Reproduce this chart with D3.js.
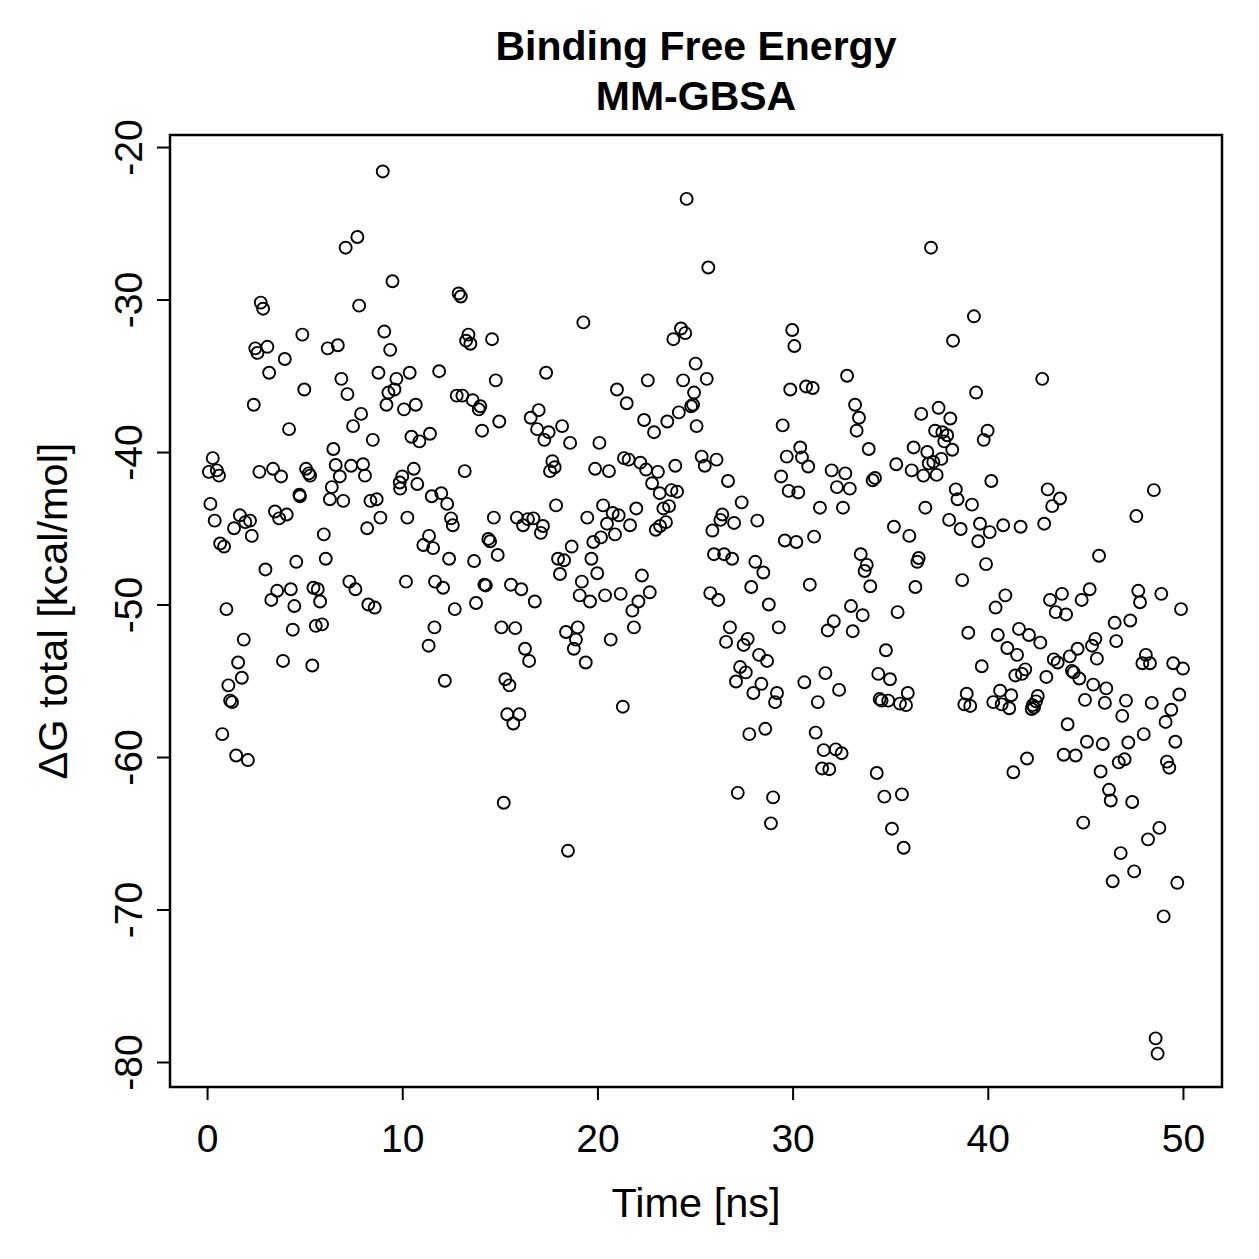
<!DOCTYPE html>
<html>
<head>
<meta charset="utf-8">
<script src="https://cdn.jsdelivr.net/npm/d3@7"></script>
<style>
  html, body { margin: 0; padding: 0; background: #fff; }
  svg { display: block; font-family: "Liberation Sans", Arial, Helvetica, sans-serif; }
</style>
</head>
<body>
<svg id="chart" width="1259" height="1259"></svg>
<script>
// ---- data ----
const titleLines = ["Binding Free Energy", "MM-GBSA"];
const xLabel = "Time [ns]";
const yLabel = "\u0394G total [kcal/mol]";
const xTicks = [0, 10, 20, 30, 40, 50];
const yTicks = [-20, -30, -40, -50, -60, -70, -80];

const time = [
 9.0,7.7,7.1,9.5,2.75,2.87,7.79,4.88,9.08,2.47,2.58,3.09,6.18,6.70,9.38,3.98,3.18,6.88,8.78,9.70,
 10.38,4.98,7.19,9.29,9.60,2.39,9.19,10.09,10.69,7.89,7.48,4.20,10.47,10.88,11.42,8.49,6.47,0.29,
 24.57,12.89,13.0,19.28,24.28,24.50,23.89,13.39,13.27,13.49,14.60,11.89,17.37,14.79,22.58,24.39,25.03,
 21.00,21.50,12.79,13.08,13.61,13.92,14.00,24.95,24.80,24.90,24.17,23.58,22.39,22.90,25.08,14.97,14.09,
 16.99,16.58,16.91,17.50,17.28,18.19,18.60,20.10,
 37.09,25.68,29.98,30.09,38.22,25.60,32.79,29.88,30.69,31.03,33.20,33.40,33.28,29.49,37.48,36.59,38.08,
 37.30,37.67,37.92,37.77,38.18,36.20,36.90,33.90,30.39,29.70,30.48,25.34,26.10,
 39.29,42.79,39.40,39.99,39.79,
 0.09,0.50,0.61,2.68,3.38,3.79,5.07,5.21,5.28,6.59,7.38,7.99,8.09,6.80,6.39,6.29,6.98,4.73,4.76,8.37,
 8.69,9.87,10.0,9.89,10.59,10.77,11.51,0.17,0.39,1.68,1.38,1.96,2.20,2.29,3.48,3.69,4.08,5.98,8.88,8.20,
 10.26,11.37,11.08,11.58,0.67,0.87,2.99,4.57,6.08,7.29,7.60,10.19,11.68,3.59,3.29,4.29,5.45,5.67,5.79,
 4.47,8.26,8.59,0.99,4.39,5.57,5.89,11.65,11.35,1.88,3.89,5.39,1.59,1.78,1.09,1.18,1.28,0.78,1.49,2.09,
 13.20,17.69,17.81,17.57,19.88,20.59,21.36,21.60,22.20,22.49,23.10,23.99,22.80,23.19,23.79,24.08,
 12.00,12.30,12.50,12.59,14.69,17.88,15.87,16.19,16.44,16.72,17.21,17.10,19.48,20.29,20.78,21.09,20.49,
 20.90,21.67,21.99,23.38,23.67,23.51,23.21,22.99,14.41,14.50,12.40,13.68,14.89,18.68,19.79,20.18,17.98,
 18.29,19.69,18.08,19.99,22.28,12.09,14.21,14.28,15.57,16.10,19.20,19.09,19.62,20.39,21.19,22.68,22.10,
 21.79,16.79,13.78,12.69,15.08,15.79,18.39,18.99,18.90,18.79,21.87,20.68,16.29,16.50,19.40,12.18,15.28,
 15.49,21.30,15.38,16.00,15.69,
 25.50,30.80,32.00,32.70,32.27,32.93,34.10,34.22,35.31,36.10,36.70,37.38,36.97,37.21,37.62,26.69,29.41,
 29.80,30.29,31.40,32.58,36.80,38.36,38.45,38.02,27.39,26.40,26.30,27.00,25.89,28.19,35.19,35.98,29.60,
 30.19,31.10,25.97,26.49,26.90,28.09,28.50,33.49,33.80,33.69,36.46,36.39,27.88,30.88,33.98,36.29,25.78,
 26.19,28.78,32.99,33.59,35.38,32.11,31.80,33.08,26.79,29.29,26.59,27.70,27.49,34.78,28.28,28.69,27.31,
 27.60,27.10,28.40,27.99,29.20,29.10,30.60,31.68,32.38,31.29,34.39,34.99,35.90,34.46,34.56,34.90,35.50,
 35.81,27.78,28.60,31.18,31.59,32.21,32.51,31.51,31.88,34.31,
 40.18,39.19,38.61,39.60,40.10,39.51,40.79,41.68,43.07,43.70,43.30,42.89,48.51,47.61,45.70,39.91,38.69,
 40.90,40.40,43.19,43.80,43.48,44.01,44.81,45.22,47.71,47.80,48.89,49.90,46.50,47.30,46.58,39.00,40.51,
 41.60,42.11,42.69,41.00,41.50,39.69,41.92,41.41,41.75,43.00,43.38,43.58,44.20,44.60,45.34,45.51,45.59,
 44.31,44.40,44.69,45.40,46.07,48.10,47.92,48.31,49.50,50.00,49.81,49.40,49.11,48.40,47.08,46.89,46.00,
 44.98,44.09,47.99,47.20,49.61,45.08,45.89,38.92,38.80,39.10,40.63,40.28,40.71,41.20,41.10,42.56,42.47,
 42.30,42.25,42.37,42.01,43.89,44.50,46.71,47.01,45.78,49.18,49.30,41.31,
 15.20,18.49,27.19,29.00,34.70,35.60,28.89,35.09,35.69,46.21,46.30,47.40,44.89,48.79,48.21,46.81,47.50,
 46.40,49.71,49.01,48.60,48.70
];

const dG = [
 -21.6,-25.9,-26.6,-28.8,-30.2,-30.6,-30.4,-32.3,-32.1,-33.2,-33.5,-33.1,-33.2,-33.0,-33.3,-33.9,-34.8,-35.2,-34.8,-35.2,
 -34.8,-35.9,-36.2,-36.1,-35.9,-36.9,-36.9,-37.2,-36.9,-37.5,-38.3,-38.5,-39.0,-39.3,-38.8,-39.2,-39.8,-40.4,
 -23.4,-29.6,-29.8,-31.5,-31.9,-32.2,-32.6,-32.3,-32.7,-32.9,-32.6,-34.7,-34.8,-35.3,-35.3,-35.3,-34.2,
 -35.9,-36.8,-36.3,-36.3,-36.6,-37.2,-37.0,-36.1,-37.0,-36.9,-37.4,-38.0,-37.9,-38.7,-38.3,-38.0,-38.6,
 -37.25,-37.75,-38.5,-38.7,-39.2,-38.3,-39.4,-39.4,
 -26.6,-27.9,-32.0,-33.05,-32.7,-35.2,-35.0,-35.9,-35.7,-35.8,-36.9,-37.75,-38.6,-38.25,-37.1,-37.5,-37.8,
 -38.6,-38.7,-38.9,-39.3,-39.85,-39.7,-40.0,-39.8,-39.7,-40.3,-40.35,-40.3,-40.5,
 -31.1,-35.2,-36.1,-38.6,-39.2,
 -41.3,-41.2,-41.55,-41.3,-41.1,-41.6,-41.1,-41.4,-41.55,-40.85,-40.9,-40.8,-41.55,-41.6,-42.3,-43.1,-43.2,-42.8,-42.9,-43.2,
 -43.1,-42.0,-41.6,-42.4,-41.1,-42.1,-42.9,-43.4,-44.5,-44.15,-45.0,-44.6,-44.5,-45.5,-43.9,-44.35,-44.1,-45.4,-44.3,-45.0,
 -44.3,-45.5,-46.1,-46.3,-46.0,-46.2,-47.7,-47.2,-47.0,-48.5,-49.0,-48.5,-48.5,-49.1,-49.7,-49.0,-48.9,-49.0,-49.8,
 -50.1,-50.0,-50.2,-50.3,-51.65,-51.4,-51.3,-51.5,-52.7,-52.3,-53.7,-54.0,-53.8,-54.8,-55.3,-56.3,-56.4,-58.5,-59.9,-60.2,
 -41.25,-40.6,-41.0,-41.25,-41.1,-41.25,-40.4,-40.5,-40.7,-41.15,-41.3,-40.9,-42.05,-42.7,-42.5,-42.6,
 -42.7,-43.4,-44.35,-44.8,-44.3,-43.5,-44.3,-44.8,-44.4,-44.35,-44.85,-45.3,-44.3,-43.5,-44.0,-44.15,-44.7,
 -45.4,-44.8,-43.7,-43.7,-43.55,-44.6,-44.85,-45.1,-45.7,-45.85,-47.0,-47.15,-46.75,-46.2,-45.9,-45.6,-47.0,
 -47.1,-47.0,-48.0,-47.95,-48.1,-48.9,-48.7,-48.75,-48.7,-49.0,-48.5,-49.4,-49.8,-49.4,-49.3,-49.2,-49.8,
 -50.4,-49.8,-49.9,-50.3,-51.5,-51.55,-51.8,-51.5,-52.3,-52.9,-51.5,-52.3,-52.9,-53.7,-53.8,-55.0,-54.9,
 -55.3,-56.7,-57.2,-57.2,-57.8,
 -40.9,-40.95,-41.2,-41.4,-42.3,-42.4,-41.85,-41.7,-40.8,-41.2,-41.55,-41.5,-40.75,-40.65,-40.45,-41.9,-41.6,
 -42.55,-42.65,-43.65,-43.65,-43.65,-42.45,-43.1,-44.45,-43.3,-44.1,-44.45,-44.65,-45.15,-44.5,-44.9,-45.5,-45.8,
 -45.9,-45.55,-46.7,-46.7,-47.0,-47.2,-47.9,-46.7,-47.4,-47.8,-46.95,-47.2,-48.85,-48.7,-48.8,-48.85,-49.25,
 -49.7,-50.0,-50.1,-50.7,-50.5,-51.1,-51.7,-51.75,-51.5,-51.5,-52.45,-52.25,-52.65,-53.0,-53.3,-53.7,-54.1,
 -54.45,-55.05,-55.2,-55.8,-55.8,-56.4,-55.1,-54.5,-55.6,-56.4,-54.55,-54.9,-55.8,-56.2,-56.3,-56.3,-56.5,
 -56.6,-58.5,-58.15,-58.4,-59.55,-59.5,-59.75,-60.75,-60.8,-61.05,
 -41.9,-43.45,-45.05,-44.7,-45.25,-45.85,-44.8,-44.9,-42.45,-43.05,-43.55,-44.7,-42.5,-44.2,-46.8,-47.35,-48.4,
 -49.4,-50.2,-49.7,-49.3,-50.5,-50.65,-49.7,-49.0,-49.1,-49.85,-49.3,-50.3,-51.2,-51.05,-52.4,-51.85,-52.0,
 -51.6,-52.0,-52.5,-52.85,-53.3,-54.05,-54.25,-54.65,-54.55,-54.75,-53.6,-53.8,-53.4,-52.9,-52.7,-52.25,-53.55,
 -54.35,-54.45,-54.85,-55.25,-55.5,-53.3,-53.85,-53.85,-53.85,-54.2,-55.9,-56.9,-57.7,-56.45,-56.3,-57.3,-56.45,
 -56.25,-57.85,-58.5,-59.05,-59.0,-59.0,-59.15,-55.85,-56.55,-56.65,-55.65,-56.4,-56.55,-55.95,-56.8,-56.0,-56.35,
 -56.6,-56.85,-56.75,-60.1,-59.85,-59.9,-60.35,-60.15,-60.95,-60.3,-60.7,-61.0,
 -63.0,-66.15,-62.35,-62.65,-62.6,-62.45,-64.35,-64.7,-65.95,-62.15,-62.85,-62.95,-64.3,-64.65,-65.4,-66.3,-67.5,
 -68.15,-68.25,-70.45,-78.45,-79.45
];

// ---- layout ----
const box = { left: 170, right: 1222, top: 135, bottom: 1087 };
const svg = d3.select("#chart");

const x = d3.scaleLinear().domain([-1.9, 52.0]).range([box.left, box.right]);
const y = d3.scaleLinear().domain([-19.21, -81.64]).range([box.top, box.bottom]);

const fontSize = 39;
const labelSize = 41.5;

// points
const pts = d3.range(Math.min(time.length, dG.length)).map(i => ({ t: time[i], v: dG[i] }));
svg.append("g").selectAll("circle").data(pts).join("circle")
  .attr("cx", d => x(d.t)).attr("cy", d => y(d.v)).attr("r", 6)
  .attr("fill", "none").attr("stroke", "#000").attr("stroke-width", 1.9);

// x axis
const gx = svg.append("g").attr("transform", `translate(0,${box.bottom})`)
  .call(d3.axisBottom(x).tickValues(xTicks).tickSize(13).tickPadding(24).tickFormat(d3.format("d")));
gx.select(".domain").remove();
gx.selectAll(".tick line").attr("stroke", "#000").attr("stroke-width", 2);
gx.selectAll(".tick text").attr("font-size", fontSize).attr("fill", "#000")
  .attr("font-family", "'Liberation Sans', Arial, sans-serif");

// y axis
const gy = svg.append("g").attr("transform", `translate(${box.left},0)`)
  .call(d3.axisLeft(y).tickValues(yTicks).tickSize(13).tickFormat(d => String(d)));
gy.select(".domain").remove();
gy.selectAll(".tick line").attr("stroke", "#000").attr("stroke-width", 2);
gy.selectAll(".tick text")
  .attr("font-size", fontSize).attr("fill", "#000")
  .attr("font-family", "'Liberation Sans', Arial, sans-serif")
  .attr("x", 0).attr("y", -28).attr("dy", 0)
  .attr("text-anchor", "middle")
  .attr("transform", "rotate(-90)");

// box
svg.append("rect")
  .attr("x", box.left).attr("y", box.top)
  .attr("width", box.right - box.left).attr("height", box.bottom - box.top)
  .attr("fill", "none").attr("stroke", "#000").attr("stroke-width", 2.5);

// titles
const cx = (box.left + box.right) / 2;
svg.append("g").selectAll("text").data(titleLines).join("text")
  .attr("x", cx).attr("y", (d, i) => 60 + i * 50)
  .attr("text-anchor", "middle").attr("font-weight", "bold")
  .attr("font-size", 41).attr("fill", "#000").text(d => d);

svg.append("text").attr("x", cx).attr("y", 1217)
  .attr("text-anchor", "middle").attr("font-size", labelSize).attr("fill", "#000").text(xLabel);

svg.append("text")
  .attr("transform", `translate(67,${(box.top + box.bottom) / 2}) rotate(-90)`)
  .attr("text-anchor", "middle").attr("font-size", labelSize).attr("fill", "#000").text(yLabel);
</script>
</body>
</html>
